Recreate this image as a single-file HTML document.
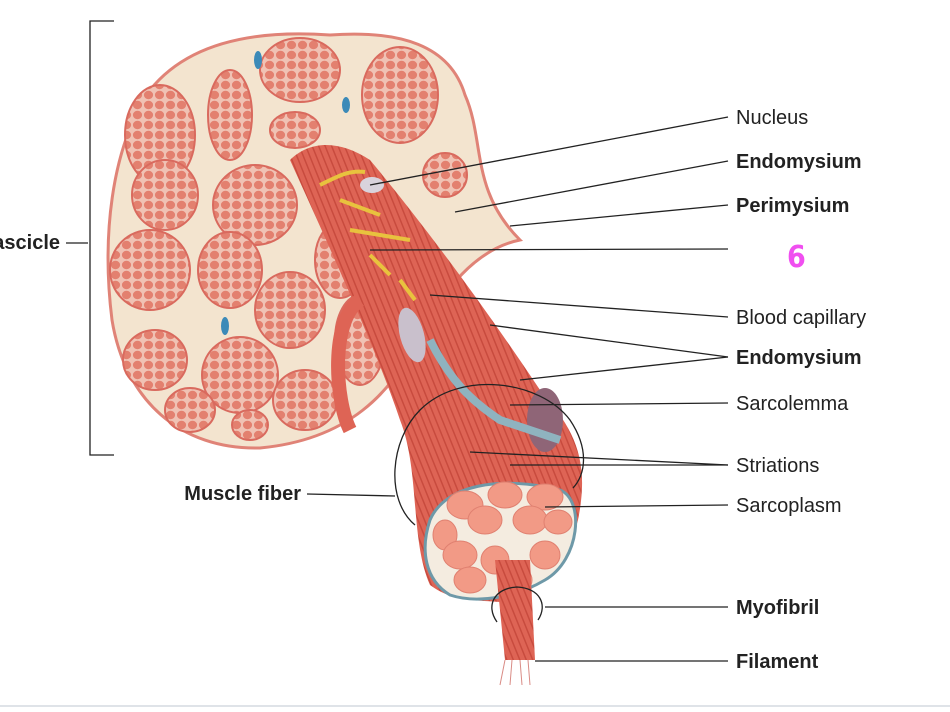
<!DOCTYPE html>
<html><head><meta charset="utf-8"><style>
html,body{margin:0;padding:0;background:#fff;}
svg{display:block;font-family:"Liberation Sans",sans-serif;}
.l{stroke:#222;stroke-width:1.3;fill:none}
.t{font-size:20px;fill:#222}
.b{font-size:20px;fill:#222;font-weight:bold}
</style></head><body>
<svg width="950" height="712" viewBox="0 0 950 712" xmlns="http://www.w3.org/2000/svg">
<defs>
<pattern id="cells" width="11" height="10" patternUnits="userSpaceOnUse">
<rect width="11" height="10" fill="#f0c2b4"/>
<ellipse cx="5.5" cy="5" rx="4.6" ry="4.2" fill="#e3806f"/>
</pattern>
<pattern id="fib" width="6" height="6" patternUnits="userSpaceOnUse" patternTransform="rotate(-22)">
<rect width="6" height="6" fill="#de6455"/>
<rect width="1.5" height="6" fill="#c84b3e"/>
</pattern>
</defs>
<path d="M150,90 C190,40 260,30 330,35 C400,30 450,45 465,95 C485,140 470,190 520,240 C470,250 440,300 420,330 C395,395 345,440 260,448 C180,450 125,400 112,320 C102,240 110,150 150,90 Z" fill="#f3e4cf" stroke="#e08377" stroke-width="3"/>
<g fill="url(#cells)" stroke="#d96a5e" stroke-width="2">
<ellipse cx="160" cy="135" rx="35" ry="50"/>
<ellipse cx="230" cy="115" rx="22" ry="45"/>
<ellipse cx="300" cy="70" rx="40" ry="32"/>
<ellipse cx="295" cy="130" rx="25" ry="18"/>
<ellipse cx="400" cy="95" rx="38" ry="48"/>
<ellipse cx="445" cy="175" rx="22" ry="22"/>
<ellipse cx="165" cy="195" rx="33" ry="35"/>
<ellipse cx="255" cy="205" rx="42" ry="40"/>
<ellipse cx="340" cy="260" rx="25" ry="38"/>
<ellipse cx="150" cy="270" rx="40" ry="40"/>
<ellipse cx="230" cy="270" rx="32" ry="38"/>
<ellipse cx="290" cy="310" rx="35" ry="38"/>
<ellipse cx="360" cy="340" rx="25" ry="45"/>
<ellipse cx="155" cy="360" rx="32" ry="30"/>
<ellipse cx="240" cy="375" rx="38" ry="38"/>
<ellipse cx="190" cy="410" rx="25" ry="22"/>
<ellipse cx="305" cy="400" rx="32" ry="30"/>
<ellipse cx="250" cy="425" rx="18" ry="15"/>
</g>
<ellipse cx="258" cy="60" rx="4" ry="9" fill="#3c8ab8"/>
<ellipse cx="346" cy="105" rx="4" ry="8" fill="#3c8ab8"/>
<ellipse cx="225" cy="326" rx="4" ry="9" fill="#3c8ab8"/>
<path d="M290,160 C310,140 340,140 370,160 C420,220 480,300 540,390 C575,430 590,460 578,520 C565,570 540,590 500,602 C470,600 450,600 430,585 C410,540 420,470 400,420 C380,360 340,270 290,160 Z" fill="url(#fib)"/>
<path d="M360,300 C330,320 335,400 350,430" stroke="#de6455" stroke-width="14" fill="none"/>
<ellipse cx="412" cy="335" rx="12" ry="28" fill="#c9c0cc" transform="rotate(-15 412 335)"/>
<ellipse cx="372" cy="185" rx="12" ry="8" fill="#d9d3dc"/>
<ellipse cx="545" cy="420" rx="18" ry="32" fill="#8f6577"/>
<path d="M430,340 C450,380 470,400 500,420 L560,440" stroke="#8fb3bf" stroke-width="8" fill="none"/>
<path d="M320,185 C340,175 350,170 365,172 M340,200 L380,215 M350,230 L410,240 M370,255 L390,275 M400,280 L415,300" stroke="#e8c23e" stroke-width="4" fill="none"/>
<path d="M430,520 C445,485 500,475 560,490 C585,500 580,560 545,580 C520,595 480,605 450,595 C425,580 420,550 430,520 Z" fill="#f4ece0" stroke="#6e99a8" stroke-width="3"/>
<g fill="#f29a86" stroke="#e08070" stroke-width="1">
<ellipse cx="465" cy="505" rx="18" ry="14"/><ellipse cx="505" cy="495" rx="17" ry="13"/><ellipse cx="545" cy="497" rx="18" ry="13"/>
<ellipse cx="485" cy="520" rx="17" ry="14"/><ellipse cx="530" cy="520" rx="17" ry="14"/><ellipse cx="558" cy="522" rx="14" ry="12"/>
<ellipse cx="445" cy="535" rx="12" ry="15"/><ellipse cx="460" cy="555" rx="17" ry="14"/><ellipse cx="495" cy="560" rx="14" ry="14"/>
<ellipse cx="545" cy="555" rx="15" ry="14"/><ellipse cx="470" cy="580" rx="16" ry="13"/><ellipse cx="520" cy="580" rx="12" ry="12"/>
</g>
<path d="M495,560 L530,560 L535,660 L505,660 Z" fill="url(#fib)"/>
<path d="M505,660 L500,685 M512,660 L510,685 M520,660 L522,685 M528,660 L530,685" stroke="#d98b85" stroke-width="1"/>
<path d="M415,525 C385,500 390,440 420,410 C460,370 540,380 570,420 C590,450 585,475 573,488" class="l"/>
<path d="M497,622 C485,605 495,588 517,587 C540,588 548,605 538,620" class="l"/>
<path d="M114,21 L90,21 L90,455 L114,455" class="l"/>
<line x1="66" y1="243" x2="88" y2="243" class="l"/>
<text x="60" y="249" class="b" text-anchor="end">Fascicle</text>
<g class="l">
<line x1="370" y1="185" x2="728" y2="117"/>
<line x1="455" y1="212" x2="728" y2="161"/>
<line x1="510" y1="226" x2="728" y2="205"/>
<line x1="370" y1="250" x2="728" y2="249"/>
<line x1="430" y1="295" x2="728" y2="317"/>
<line x1="490" y1="325" x2="728" y2="357"/>
<line x1="520" y1="380" x2="728" y2="357"/>
<line x1="510" y1="405" x2="728" y2="403"/>
<line x1="470" y1="452" x2="728" y2="465"/>
<line x1="510" y1="465" x2="728" y2="465"/>
<line x1="545" y1="507" x2="728" y2="505"/>
<line x1="545" y1="607" x2="728" y2="607"/>
<line x1="535" y1="661" x2="728" y2="661"/>
<line x1="307" y1="494" x2="395" y2="496"/>
</g>
<text x="736" y="124" class="t">Nucleus</text>
<text x="736" y="168" class="b">Endomysium</text>
<text x="736" y="212" class="b">Perimysium</text>
<text x="787" y="267" style="font-size:30px;font-weight:bold;fill:#f04ff0;font-family:'DejaVu Sans Condensed','Liberation Sans',sans-serif">6</text>
<text x="736" y="324" class="t">Blood capillary</text>
<text x="736" y="364" class="b">Endomysium</text>
<text x="736" y="410" class="t">Sarcolemma</text>
<text x="736" y="472" class="t">Striations</text>
<text x="736" y="512" class="t">Sarcoplasm</text>
<text x="736" y="614" class="b">Myofibril</text>
<text x="736" y="668" class="b">Filament</text>
<text x="301" y="500" class="b" text-anchor="end">Muscle fiber</text>
<rect x="0" y="705" width="950" height="2" fill="#dfe3e8"/>
</svg>
</body></html>
